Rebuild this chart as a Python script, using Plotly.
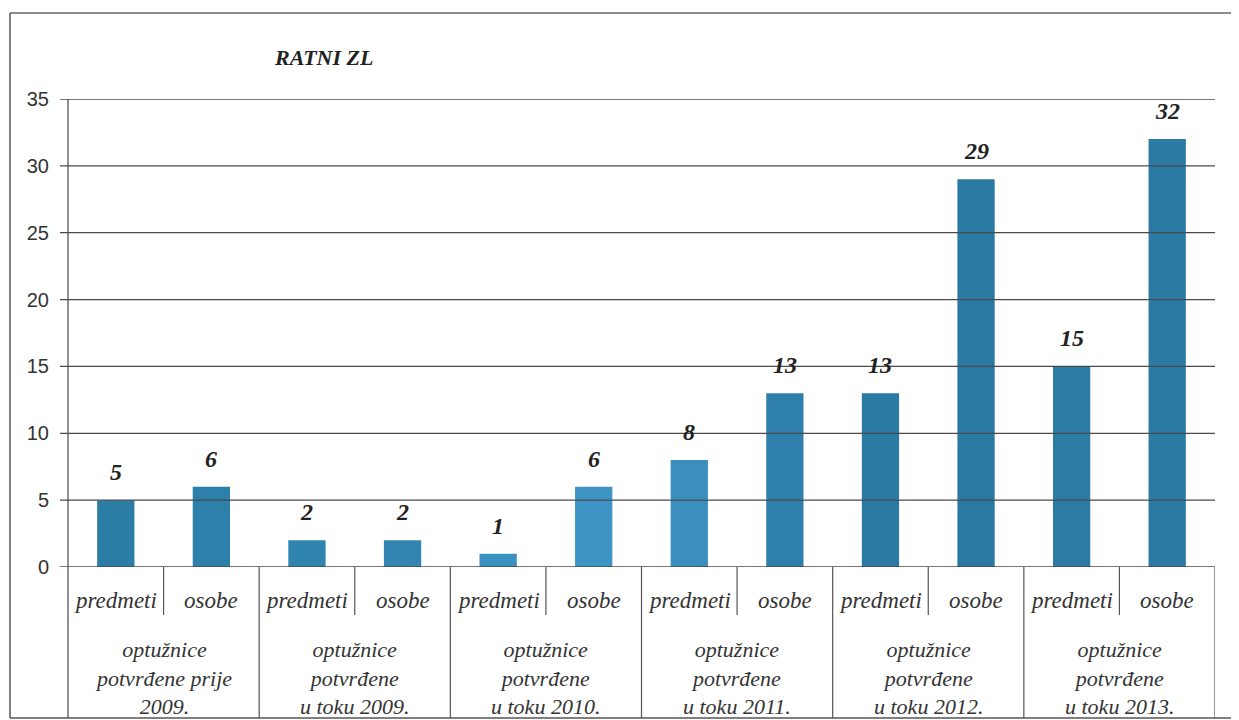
import plotly.graph_objects as go

groups = ["optužnice<br>potvrđene prije<br>2009.", "optužnice<br>potvrđene<br>u toku 2009.",
          "optužnice<br>potvrđene<br>u toku 2010.", "optužnice<br>potvrđene<br>u toku 2011.",
          "optužnice<br>potvrđene<br>u toku 2012.", "optužnice<br>potvrđene<br>u toku 2013."]
subcats = ["predmeti", "osobe"]
values = [5, 6, 2, 2, 1, 6, 8, 13, 13, 29, 15, 32]
bar_colors = ["#2c7da6", "#2d80a9", "#2f84ae", "#3185b0", "#3a90c0", "#3d94c4",
              "#3a8fbe", "#2e7fab", "#2b7aa3", "#2a79a2", "#2b7ba4", "#2a7aa3"]
yticks = [0, 5, 10, 15, 20, 25, 30, 35]

OFF = 8  # page body margin
W, H = 1239 - OFF, 720 - OFF
L, R, T, B = 68 - OFF, 1215 - OFF, 99 - OFF, 567 - OFF
pw, ph = R - L, B - T

def py(px):
    return (B - (px - OFF)) / ph

def pxp(px):
    return ((px - OFF) - L) / pw

xs = list(range(len(values)))
fig = go.Figure(go.Bar(
    x=xs, y=values, width=0.39, marker=dict(color=bar_colors, line=dict(width=0)),
    hoverinfo="y",
))

shapes = []
for t in yticks:
    shapes.append(dict(type="line", xref="paper", yref="y", x0=pxp(60), x1=1.0, y0=t, y1=t,
                       line=dict(color="#4a4a4a", width=1.3)))
shapes.append(dict(type="line", xref="paper", yref="paper", x0=0, x1=0, y0=1, y1=py(718),
                   line=dict(color="#555", width=1.3)))
for i in range(1, len(values) + 1):
    xpos = i - 0.5
    y1 = py(718) if i % 2 == 0 else py(615)
    shapes.append(dict(type="line", xref="x", yref="paper", x0=xpos, x1=xpos, y0=0, y1=y1,
                       line=dict(color="#555", width=1.2)))
shapes.append(dict(type="line", xref="paper", yref="paper", x0=pxp(10), x1=pxp(10), y0=py(13), y1=py(718),
                   line=dict(color="#555", width=1.5)))
shapes.append(dict(type="line", xref="paper", yref="paper", x0=pxp(10), x1=pxp(1237), y0=py(13), y1=py(13),
                   line=dict(color="#666", width=1.5)))
shapes.append(dict(type="line", xref="paper", yref="paper", x0=pxp(10), x1=pxp(1237), y0=py(718), y1=py(718),
                   line=dict(color="#555", width=1.5)))

annotations = []
for i, v in enumerate(values):
    annotations.append(dict(x=i, y=v, xref="x", yref="y", text=str(v), showarrow=False,
                            yanchor="middle", yshift=28,
                            font=dict(family="Liberation Serif", size=24, color="#222",
                                      weight="bold", style="italic")))
for i in range(len(values)):
    annotations.append(dict(x=i, y=py(600), xref="x", yref="paper", text=subcats[i % 2],
                            showarrow=False, yanchor="middle",
                            font=dict(family="Liberation Serif", size=23, color="#333", style="italic")))
for g, name in enumerate(groups):
    annotations.append(dict(x=2 * g + 0.5, y=py(635), xref="x", yref="paper", text=name,
                            showarrow=False, yanchor="top", align="center",
                            font=dict(family="Liberation Serif", size=22, color="#333", style="italic")))
annotations.append(dict(x=pxp(272), y=py(57), xref="paper", yref="paper", text="RATNI ZL",
                        showarrow=False, xanchor="left", yanchor="middle",
                        font=dict(family="Liberation Serif", size=22, color="#222", weight="bold", style="italic")))

fig.update_layout(
    width=W, height=H, margin=dict(l=L, r=W - R, t=T, b=H - B),
    paper_bgcolor="white", plot_bgcolor="white", showlegend=False,
    xaxis=dict(range=[-0.5, len(values) - 0.5], showticklabels=False, showgrid=False, zeroline=False,
               showline=False, ticks=""),
    yaxis=dict(range=[0, 35], tickvals=yticks, showgrid=False, zeroline=False, showline=False,
               ticks="", ticklabelstandoff=18,
               tickfont=dict(family="Liberation Sans", size=20, color="#333")),
    shapes=shapes, annotations=annotations,
)
fig.write_html("out.html")
